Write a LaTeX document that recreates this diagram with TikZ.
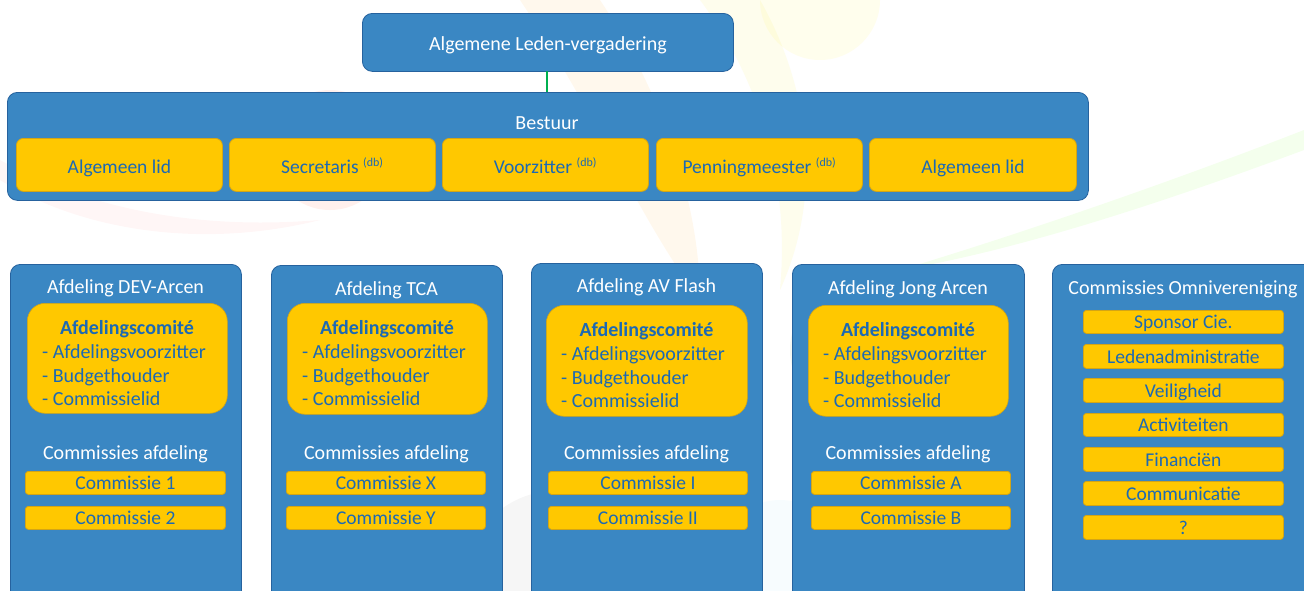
\documentclass[tikz,border=0pt]{standalone}
\usepackage{fontspec}
\setmainfont{Carlito}
\definecolor{bblue}{RGB}{58,135,195}
\definecolor{bedge}{RGB}{38,98,158}
\definecolor{yel}{RGB}{255,200,0}
\definecolor{yedge}{RGB}{212,165,20}
\definecolor{tblue}{RGB}{28,105,180}
\definecolor{conn}{RGB}{0,176,80}
\newcommand\bx[7]{\node[#1, anchor=north west, minimum width={#5-#3}, minimum height={#6-#4}, inner sep=0pt] (#2) at (#3,#4) {#7};}
\newcommand\db{\textsuperscript{\fontsize{12}{12}\selectfont(db)}}
\begin{document}
\begin{tikzpicture}[x=1pt,y=-1pt,
  bluebox/.style={draw=bedge, fill=bblue, rounded corners=10pt, line width=0.8pt, text=white, font=\fontsize{20}{22}\selectfont, text depth=0pt, text height=16pt},
  bigyel/.style={draw=yedge, fill=yel, rounded corners=7pt, line width=0.8pt, text=tblue, font=\fontsize{19.5}{22}\selectfont, text depth=0pt, text height=18pt},
  comite/.style={draw=yedge, fill=yel, rounded corners=18pt, line width=0.6pt},
  smallyel/.style={draw=yedge, fill=yel, rounded corners=3pt, line width=0.8pt, text=tblue, font=\fontsize{19.5}{22}\selectfont, text depth=0pt},
  wlabel/.style={text=white, font=\fontsize{20}{22}\selectfont, inner sep=0pt, yshift=-2pt},
  ylabel/.style={text=tblue, font=\fontsize{20}{22}\selectfont, inner sep=0pt, yshift=-2pt},
  yhead/.style={text=tblue, font=\fontsize{20}{22}\selectfont\bfseries, inner sep=0pt, yshift=-2pt},
  link/.style={draw=conn, line width=1.6pt},
  wm/.style={opacity=0.07}]
\useasboundingbox (0,0) rectangle (1304,590);
\clip (0,0) rectangle (1304,590);
\fill[white] (0,0) rectangle (1304,590);

% faint watermark
\fill[wm, fill=orange!70!yellow] (520,0) .. controls (600,120) and (640,220) .. (700,300) .. controls (700,200) and (660,90) .. (600,0) -- cycle;
\fill[wm, fill=yellow!90!orange] (700,0) .. controls (760,80) and (790,180) .. (780,290) .. controls (830,180) and (800,70) .. (760,0) -- cycle;
\fill[wm, fill=yellow] (820,0) circle (60);
\fill[wm, fill=red!60!orange] (330,150) circle (60);
\fill[wm, fill=red!50] (0,180) .. controls (80,230) and (200,250) .. (320,220) .. controls (200,230) and (90,210) .. (0,160) -- cycle;
\fill[wm, fill=green!60!yellow] (1304,130) .. controls (1150,190) and (1000,240) .. (900,270) .. controls (1020,250) and (1170,200) .. (1304,150) -- cycle;
\fill[wm, fill=green!30!gray] (860,350) circle (70);
\fill[wm, fill=gray] (560,590) circle (100);
\fill[wm, fill=cyan!40] (780,560) circle (60);

% top
\bx{bluebox}{alv}{362}{13}{733}{71}{Algemene Leden-vergadering}
\bx{bluebox}{bestuur}{7}{92}{1088}{200}{}
\coordinate (alvb) at (547,71);
\coordinate (bestt) at (547,92);
\draw[link] (alvb) -- (bestt);
\node[wlabel] (bestuurlbl) at (547,121) {Bestuur};
\bx{bigyel}{b1}{16}{138}{222}{191}{Algemeen lid}
\bx{bigyel}{b2}{229}{138}{435}{191}{Secretaris \db}
\bx{bigyel}{b3}{442}{138}{648}{191}{Voorzitter \db}
\bx{bigyel}{b4}{656}{138}{862}{191}{Penningmeester \db}
\bx{bigyel}{b5}{869}{138}{1076}{191}{Algemeen lid}

% columns
\foreach \n/\L/\R/\T/\ty/\cx/\cy/\cr/\cb/\kx/\kr/\ka/\kb/\title in {
  c1/10/241/264/286/27/303/227/413/25/225/1/2/Afdeling DEV-Arcen,
  c2/271/502/265/288/287/303/487/414/286/485/X/Y/Afdeling TCA,
  c3/531/762/263/285/546/305/747/416/548/747/I/II/Afdeling AV Flash,
  c4/792/1024/264/287/808/305/1008/416/811/1010/A/B/Afdeling Jong Arcen}{
  \bx{bluebox}{\n}{\L}{\T}{\R}{610}{}
  \node[wlabel] (\n title) at ({(\L+\R)/2},\ty) {\title};
  \bx{comite}{\n com}{\cx}{\cy}{\cr}{\cb}{}
  \node[yhead] (\n h) at ({(\cx+\cr)/2},\cy+24) {Afdelingscomit\'e};
  \node[ylabel, anchor=west] (\n l1) at (\cx+15,\cy+48) {- Afdelingsvoorzitter};
  \node[ylabel, anchor=west] (\n l2) at (\cx+15,\cy+72) {- Budgethouder};
  \node[ylabel, anchor=west] (\n l3) at (\cx+15,\cy+94) {- Commissielid};
  \node[wlabel] (\n cs) at ({(\L+\R)/2},452) {Commissies afdeling};
  \bx{smallyel}{\n k1}{\kx}{471}{\kr}{494}{Commissie \ka}
  \bx{smallyel}{\n k2}{\kx}{506}{\kr}{529}{Commissie \kb}
}

% omnivereniging
\bx{bluebox}{c5}{1052}{264}{1320}{610}{}
\node[wlabel] (c5title) at (1183,287) {Commissies Omnivereniging};
\bx{smallyel}{o1}{1083}{310}{1283}{333}{Sponsor Cie.}
\bx{smallyel}{o2}{1083}{344}{1283}{368}{Ledenadministratie}
\bx{smallyel}{o3}{1083}{378}{1283}{402}{Veiligheid}
\bx{smallyel}{o4}{1083}{413}{1283}{436}{Activiteiten}
\bx{smallyel}{o5}{1083}{447}{1283}{471}{Financi\"en}
\bx{smallyel}{o6}{1083}{481}{1283}{505}{Communicatie}
\bx{smallyel}{o7}{1083}{515}{1283}{539}{?}
\end{tikzpicture}
\end{document}
